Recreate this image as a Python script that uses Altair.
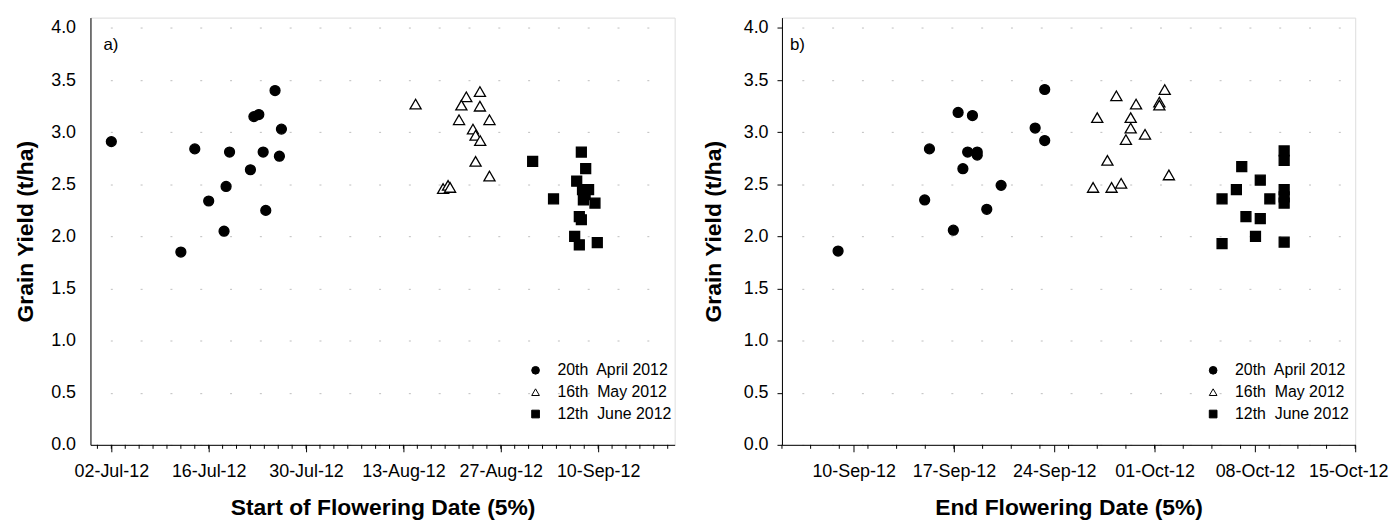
import altair as alt
import pandas as pd

FONT = "Liberation Sans"
series_names = ["20th\u00a0 April 2012", "16th\u00a0 May 2012", "12th\u00a0 June 2012"]
series_shapes = ["circle", "triangle-up", "square"]
series_fills = ["black", "white", "black"]
series_strokes = ["black", "black", "black"]

# ---------------- panel a) start of flowering ----------------
a_apr_dates = ["2012-07-02T00:00", "2012-07-12T00:00", "2012-07-14T00:00", "2012-07-16T00:00",
               "2012-07-18T05:00", "2012-07-18T12:00", "2012-07-19T00:00", "2012-07-22T00:00",
               "2012-07-22T12:00", "2012-07-23T05:00", "2012-07-23T20:00", "2012-07-24T05:00",
               "2012-07-25T13:00", "2012-07-26T04:00", "2012-07-26T11:00"]
a_apr_yield = [2.91, 1.85, 2.84, 2.34, 2.05, 2.48, 2.81, 2.64, 3.15, 3.17, 2.81, 2.25, 3.40, 2.77, 3.03]

a_may_dates = ["2012-08-14T18:00", "2012-08-22T01:00", "2012-08-24T00:00", "2012-08-21T08:00",
               "2012-08-24T00:00", "2012-08-21T00:00", "2012-08-25T09:00", "2012-08-23T00:00",
               "2012-08-23T09:00", "2012-08-24T01:00", "2012-08-23T09:00", "2012-08-25T09:00",
               "2012-08-18T17:00", "2012-08-19T10:00", "2012-08-19T17:00"]
a_may_yield = [3.27, 3.34, 3.39, 3.26, 3.25, 3.12, 3.12, 3.03, 2.97, 2.92, 2.72, 2.58, 2.46, 2.49, 2.47]

a_jun_dates = ["2012-08-31T14:00", "2012-09-07T14:00", "2012-09-08T05:00", "2012-09-06T22:00",
               "2012-09-07T18:00", "2012-09-08T15:00", "2012-09-03T14:00", "2012-09-07T21:00",
               "2012-09-09T13:00", "2012-09-07T07:00", "2012-09-07T14:00", "2012-09-06T15:00",
               "2012-09-07T07:00", "2012-09-09T21:00", "2012-09-08T03:00"]
a_jun_yield = [2.72, 2.81, 2.65, 2.53, 2.45, 2.45, 2.36, 2.35, 2.32, 2.19, 2.16, 2.00, 1.92, 1.94, 2.40]

# ---------------- panel b) end of flowering ----------------
b_apr_dates = ["2012-09-08T22:00", "2012-09-15T07:00", "2012-09-14T23:00", "2012-09-16T23:00",
               "2012-09-17T07:00", "2012-09-18T07:00", "2012-09-17T23:00", "2012-09-18T15:00",
               "2012-09-18T15:00", "2012-09-17T15:00", "2012-09-19T07:00", "2012-09-20T07:00",
               "2012-09-22T16:00", "2012-09-23T08:00", "2012-09-23T08:00"]
b_apr_yield = [1.86, 2.84, 2.35, 2.06, 3.19, 3.16, 2.81, 2.81, 2.78, 2.65, 2.26, 2.49, 3.04, 3.41, 2.92]

b_may_dates = ["2012-09-28T08:00", "2012-09-29T17:00", "2012-10-01T08:00", "2012-10-01T08:00",
               "2012-10-01T17:00", "2012-09-27T00:00", "2012-09-29T08:00", "2012-09-29T08:00",
               "2012-09-30T08:00", "2012-09-29T00:00", "2012-09-27T17:00", "2012-10-02T00:00",
               "2012-09-26T17:00", "2012-09-28T00:00", "2012-09-28T16:00"]
b_may_yield = [3.35, 3.27, 3.29, 3.26, 3.41, 3.14, 3.14, 3.04, 2.98, 2.93, 2.73, 2.59, 2.47, 2.47, 2.51]

b_jun_dates = ["2012-10-07T02:00", "2012-10-08T09:00", "2012-10-06T17:00", "2012-10-05T17:00",
               "2012-10-09T01:00", "2012-10-07T09:00", "2012-10-08T09:00", "2012-10-08T01:00",
               "2012-10-05T17:00", "2012-10-10T01:00", "2012-10-10T01:00", "2012-10-10T01:00",
               "2012-10-10T01:00", "2012-10-10T01:00", "2012-10-10T01:00"]
b_jun_yield = [2.67, 2.54, 2.45, 2.36, 2.36, 2.19, 2.17, 2.00, 1.93, 1.945, 2.82, 2.73, 2.45, 2.38, 2.32]

# axes
a_major_ticks = ["2012-07-02", "2012-07-16", "2012-07-30", "2012-08-13", "2012-08-27", "2012-09-10"]
b_major_ticks = ["2012-09-10", "2012-09-17", "2012-09-24", "2012-10-01", "2012-10-08", "2012-10-15"]
a_domain = ["2012-06-29", "2012-09-21"]
b_domain = ["2012-09-05", "2012-10-15"]
y_ticks = [0.0, 0.5, 1.0, 1.5, 2.0, 2.5, 3.0, 3.5, 4.0]

W_A, W_B, H = 588, 577, 430


def dt(s):
    y, m, d = [int(v) for v in s.split("-")]
    return alt.DateTime(year=y, month=m, date=d)


def frame(groups):
    rows = []
    for name, dates, ys in groups:
        for d, v in zip(dates, ys):
            rows.append({"date": d, "yield": v, "series": name})
    return pd.DataFrame(rows)


def panel(df, domain, majors, minor_start, minor_end, xtitle, tag, width, tag_x,
          yticks_on, ylabpad, ytitlepad, legx, flush_off):
    minor_df = pd.DataFrame({"date": [d.strftime("%Y-%m-%dT00:00") for d in
                                      pd.date_range(minor_start, minor_end, freq="2D")]})
    xscale = alt.Scale(domain=[dt(d) for d in domain], nice=False)
    xaxis = alt.Axis(values=[dt(d) for d in majors], format="%d-%b-%y", title=xtitle,
                     tickSize=7, labelPadding=11, titlePadding=16, grid=False,
                     domainColor="black", tickColor="black", labelColor="black",
                     labelFontSize=18, titleFontSize=23, titleFontWeight="bold",
                     labelFont=FONT, titleFont=FONT, labelOverlap=False,
                     labelFlush=True, labelFlushOffset=flush_off)
    yaxis = alt.Axis(values=y_ticks, format=".1f", title="Grain Yield (t/ha)",
                     ticks=yticks_on, tickSize=5, labelPadding=ylabpad, titlePadding=ytitlepad,
                     grid=True, gridColor="#bdbdbd", gridDash=[2, 28], gridDashOffset=10,
                     gridWidth=1, domainColor="black", tickColor="black", labelColor="black",
                     labelFontSize=18, titleFontSize=23, titleFontWeight="bold",
                     labelFont=FONT, titleFont=FONT)
    legend = alt.Legend(orient="none", legendX=legx, legendY=347, title=None,
                        labelFontSize=16, labelFont=FONT, labelColor="black",
                        symbolSize=60, symbolStrokeColor="black", symbolStrokeWidth=1,
                        rowPadding=6, labelOffset=14, padding=0)
    enc = dict(
        x=alt.X("date:T", scale=xscale, axis=xaxis),
        y=alt.Y("yield:Q", scale=alt.Scale(domain=[0, 4.1], nice=False), axis=yaxis),
        shape=alt.Shape("series:N", scale=alt.Scale(domain=series_names, range=series_shapes),
                        legend=legend),
        fill=alt.Fill("series:N", scale=alt.Scale(domain=series_names, range=series_fills),
                      legend=legend),
        stroke=alt.Stroke("series:N", scale=alt.Scale(domain=series_names, range=series_strokes),
                          legend=legend),
    )
    solid = alt.Chart(df).transform_filter(alt.datum.series != series_names[1]).mark_point(
        filled=False, strokeWidth=1.3, size=100, opacity=1).encode(**enc)
    tri = alt.Chart(df).transform_filter(alt.datum.series == series_names[1]).mark_point(
        filled=False, strokeWidth=1.3, size=125, opacity=1).encode(**enc)
    minor = alt.Chart(minor_df).mark_rule(color="black", strokeWidth=1).encode(
        x=alt.X("date:T"), y=alt.value(H), y2=alt.value(H + 4))
    lab = alt.Chart(pd.DataFrame({"t": [tag]})).mark_text(
        align="left", baseline="alphabetic", fontSize=17, font=FONT, color="black").encode(
        x=alt.value(tag_x), y=alt.value(33), text="t:N")
    return alt.layer(solid, tri, minor, lab).properties(width=width, height=H)


df_a = frame([(series_names[0], a_apr_dates, a_apr_yield),
              (series_names[1], a_may_dates, a_may_yield),
              (series_names[2], a_jun_dates, a_jun_yield)])
df_b = frame([(series_names[0], b_apr_dates, b_apr_yield),
              (series_names[1], b_may_dates, b_may_yield),
              (series_names[2], b_jun_dates, b_jun_yield)])

left = panel(df_a, a_domain, a_major_ticks, "2012-06-30", "2012-09-20",
             "Start of Flowering Date (5%)", "a)", W_A, 13, False, 15, 13, 440, 0)
right = panel(df_b, b_domain, b_major_ticks, "2012-09-05", "2012-10-15",
              "End Flowering Date (5%)", "b)", W_B, 8, True, 9, 18, 426, 33)

chart = alt.hconcat(left, right, spacing=108, bounds="flush").resolve_scale(
    shape="independent", fill="independent", stroke="independent", x="independent"
).resolve_legend(shape="independent", fill="independent", stroke="independent").properties(
    padding={"left": 6, "top": 7, "right": 0, "bottom": 0}
).configure_view(stroke=None).configure(font=FONT)

chart.save("out.html", embed_options={"renderer": "svg", "actions": False})
